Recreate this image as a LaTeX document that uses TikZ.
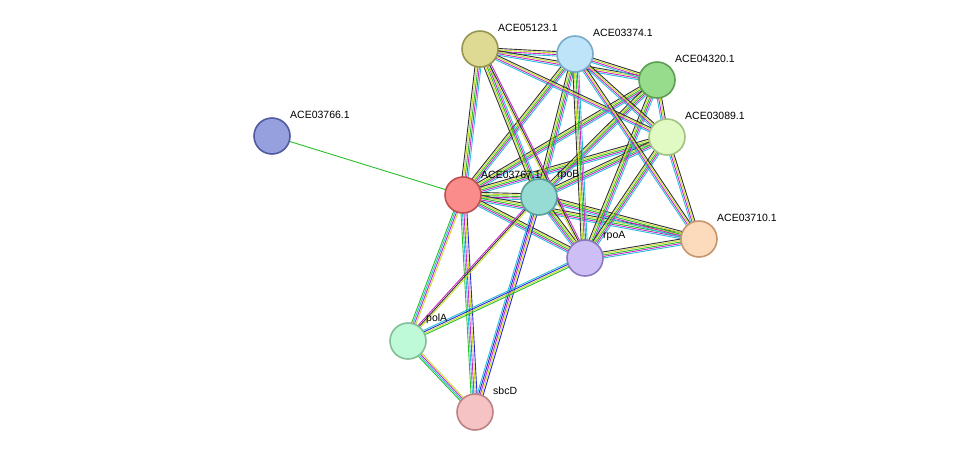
\documentclass[tikz,border=0pt]{standalone}
\usepackage{fontspec}
\setmainfont{Liberation Sans}
\usetikzlibrary{calc}
\definecolor{cG}{RGB}{40,190,40}
\definecolor{cC}{RGB}{40,190,220}
\definecolor{cM}{RGB}{200,40,200}
\definecolor{cY}{RGB}{200,220,40}
\definecolor{cK}{RGB}{50,50,50}
\definecolor{cB}{RGB}{40,40,220}
\newcommand\bund[3]{\edef\clist{#3}\foreach[count=\i] \c in \clist {\pgfmathsetmacro\oo{(\i-3)*1.5}\draw[color=\c,line width=0.9pt] ($(#1)!\oo pt!90:(#2)$) -- ($(#2)!\oo pt!-90:(#1)$);}}
\tikzset{prot/.style={circle,draw,line width=1.6pt,minimum size=36pt,inner sep=0pt},
 lab/.style={font=\fontsize{10.5}{12}\selectfont,anchor=south west,inner sep=1pt}}
\begin{document}
\begin{tikzpicture}[x=1pt,y=-1pt]
\useasboundingbox (0,0) rectangle (976,459);
\coordinate (a5123) at (480,49);
\coordinate (a3374) at (575,54);
\coordinate (a4320) at (657,80);
\coordinate (a3089) at (667,137);
\coordinate (a3766) at (272,136);
\coordinate (a3767) at (463,195);
\coordinate (rpoB) at (539,197);
\coordinate (a3710) at (699,239);
\coordinate (rpoA) at (585,258);
\coordinate (polA) at (408,341);
\coordinate (sbcD) at (475,412);
\draw[cG,line width=0.9pt] (a3766) -- (a3767);
\def\full{cC,cM,cG,cY,cK}
\def\nog{cC,cM,cY,cK}
\foreach \p in {a5123,a3374,a4320,a3089,rpoB,a3710,rpoA}{\bund{a3767}{\p}{\full}}
\bund{a3767}{polA}{cG,cC,cM,cY}
\bund{a3767}{sbcD}{cG,cC,cM,cY,cB}
\foreach \p in {a5123,a3374,a4320,a3089,a3710,rpoA}{\bund{rpoB}{\p}{\full}}
\bund{rpoB}{polA}{cM,cK,cY}
\bund{rpoB}{sbcD}{cC,cB,cM,cY,cB}
\foreach \p in {a3374,a4320,a3089,a3710}{\bund{rpoA}{\p}{\full}}
\bund{rpoA}{a5123}{cM,cK,cY}
\bund{rpoA}{polA}{cC,cB,cY,cG}
\bund{polA}{sbcD}{cG,cC,cM,cY}
\foreach \p in {a3374,a4320,a3089}{\bund{a5123}{\p}{\nog}}
\foreach \p in {a4320,a3089,a3710}{\bund{a3374}{\p}{\nog}}
\bund{a4320}{a3089}{cC,cM,cY,cK}
\bund{a3089}{a3710}{cC,cM,cY,cK}
\node[prot,fill={rgb,255:red,222;green,218;blue,148},draw={rgb,255:red,150;green,150;blue,80}] (n5123) at (a5123) {};
\node[prot,fill={rgb,255:red,190;green,228;blue,250},draw={rgb,255:red,120;green,170;blue,200}] (n3374) at (a3374) {};
\node[prot,fill={rgb,255:red,150;green,220;blue,140},draw={rgb,255:red,90;green,160;blue,80}] (n4320) at (a4320) {};
\node[prot,fill={rgb,255:red,225;green,250;blue,195},draw={rgb,255:red,160;green,195;blue,130}] (n3089) at (a3089) {};
\node[prot,fill={rgb,255:red,150;green,160;blue,222},draw={rgb,255:red,80;green,90;blue,160}] (n3766) at (a3766) {};
\node[prot,fill={rgb,255:red,250;green,140;blue,140},draw={rgb,255:red,190;green,80;blue,80}] (n3767) at (a3767) {};
\node[prot,fill={rgb,255:red,150;green,220;blue,212},draw={rgb,255:red,90;green,160;blue,150}] (nrpoB) at (rpoB) {};
\node[prot,fill={rgb,255:red,252;green,218;blue,188},draw={rgb,255:red,200;green,150;blue,110}] (n3710) at (a3710) {};
\node[prot,fill={rgb,255:red,205;green,190;blue,245},draw={rgb,255:red,140;green,120;blue,190}] (nrpoA) at (rpoA) {};
\node[prot,fill={rgb,255:red,190;green,250;blue,215},draw={rgb,255:red,130;green,190;blue,150}] (npolA) at (polA) {};
\node[prot,fill={rgb,255:red,245;green,195;blue,195},draw={rgb,255:red,190;green,130;blue,130}] (nsbcD) at (sbcD) {};
\node[lab] at (497,33) {ACE05123.1};
\node[lab] at (592,38) {ACE03374.1};
\node[lab] at (674,64) {ACE04320.1};
\node[lab] at (684,121) {ACE03089.1};
\node[lab] at (289,120) {ACE03766.1};
\node[lab] at (480,180) {ACE03767.1};
\node[lab] at (556,181) {rpoB};
\node[lab] at (716,223) {ACE03710.1};
\node[lab] at (602,242) {rpoA};
\node[lab] at (425,325) {polA};
\node[lab] at (492,396) {sbcD};
\end{tikzpicture}
\end{document}
